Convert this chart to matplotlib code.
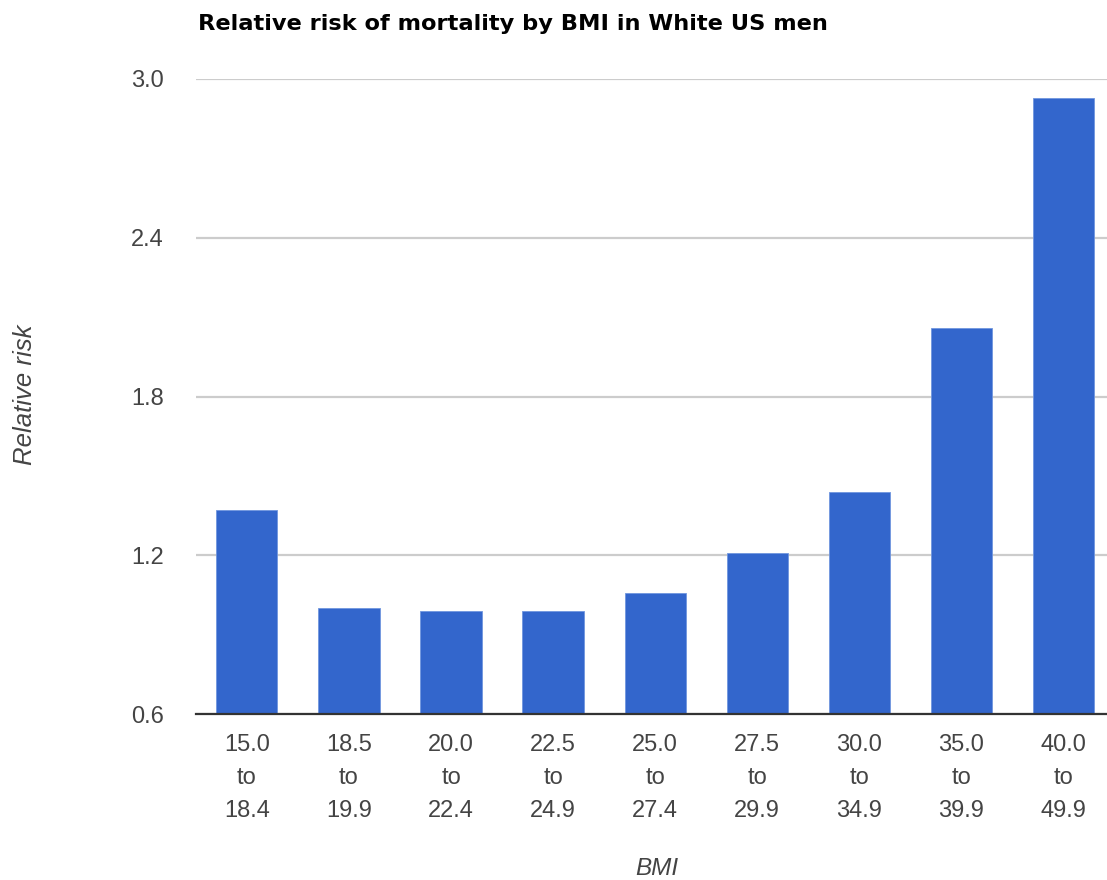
import matplotlib
matplotlib.use('Agg')
from matplotlib import pyplot as plt

plt.rcParams['font.family'] = ['Liberation Sans', 'DejaVu Sans']

# Relative risk of death per BMI band
bmi_bands = ['15.0\nto\n18.4', '18.5\nto\n19.9', '20.0\nto\n22.4',
             '22.5\nto\n24.9', '25.0\nto\n27.4', '27.5\nto\n29.9',
             '30.0\nto\n34.9', '35.0\nto\n39.9', '40.0\nto\n49.9']
relative_risk = [1.37, 1.00, 0.99, 0.99, 1.06, 1.21, 1.44, 2.06, 2.93]
y_ticks = [0.6, 1.2, 1.8, 2.4, 3.0]

W, H = 1107, 880
fig = plt.figure(figsize=(W / 100, H / 100), dpi=100)

# chart area runs slightly past the right edge of the canvas
left, right = 195.8, 1114.6
top, base = 79.0, 714.3
ax = fig.add_axes([left / W, 1 - base / H, (right - left) / W, (base - top) / H])

x = range(len(bmi_bands))
ax.bar(x, [v - y_ticks[0] for v in relative_risk], bottom=y_ticks[0],
       width=0.6, color='#3366cc', edgecolor='#7096de', linewidth=0.6,
       zorder=3)

ax.set_xlim(-0.5, len(bmi_bands) - 0.5)
ax.set_ylim(y_ticks[0], y_ticks[-1])
ax.set_yticks(y_ticks)
ax.set_yticklabels([f'{t:.1f}' for t in y_ticks])
ax.set_xticks(list(x))
ax.set_xticklabels(bmi_bands, linespacing=1.65)

ax.tick_params(axis='y', length=0, pad=23, labelsize=17, labelcolor='#444444')
ax.tick_params(axis='x', length=0, pad=14, labelsize=17, labelcolor='#444444')

ax.grid(axis='y', color='#cccccc', linewidth=1.6, zorder=0)
for side in ['top', 'right', 'left']:
    ax.spines[side].set_visible(False)
ax.spines['bottom'].set_color('#333333')
ax.spines['bottom'].set_linewidth(1.6)
ax.spines['bottom'].set_zorder(4)

fig.text(198 / W, 1 - 24 / H, 'Relative risk of mortality by BMI in White US men',
         family='DejaVu Sans', fontsize=16.2, fontweight='bold', color='#000000',
         ha='left', va='center')
fig.text(25 / W, 1 - 395 / H, 'Relative risk', fontsize=18.5, style='italic',
         color='#444444', rotation=90, ha='center', va='center')
fig.text(657 / W, 1 - 868 / H, 'BMI', fontsize=17.5, style='italic',
         color='#444444', ha='center', va='center')

fig.savefig('out.png', dpi=100)
